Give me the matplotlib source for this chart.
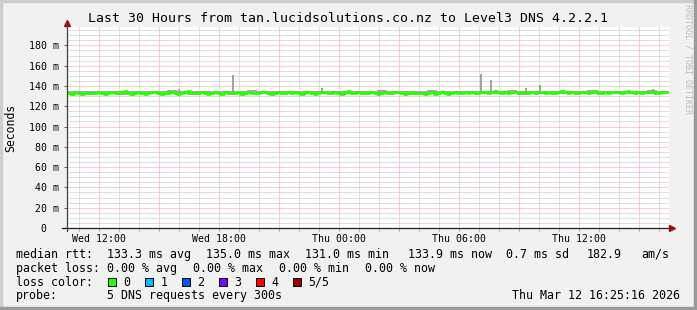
import numpy as np
import matplotlib.pyplot as plt
from matplotlib.patches import Rectangle
from matplotlib.lines import Line2D
from matplotlib.ticker import MultipleLocator, FixedLocator

W, H = 697, 310

# start of the graph: Wed 10:25 (hours since Wed 00:00), 10 minute steps
start_h = 10 + 25 / 60.0
step_h = 1 / 6.0

median_rtt = [
    133.1, 132.4, 133.8, 132.9, 132.2, 133.4, 134.2, 132.7, 133.1, 134.4, 133.3, 132.3, 133.0, 134.0, 133.2,
    132.6, 133.7, 134.6, 133.0, 132.4, 133.3, 134.1, 132.8, 132.1, 133.4, 133.9, 134.5, 133.0, 132.5, 133.6,
    132.9, 134.0, 133.2, 132.3, 133.1, 133.7, 134.7, 133.3, 132.6, 133.4, 134.2, 132.8, 132.0, 133.3, 134.0,
    133.1, 132.5, 133.8, 134.4, 133.2, 132.8, 133.6, 132.2, 133.1, 134.1, 133.4, 132.6, 133.3, 134.3, 133.6,
    132.9, 132.2, 133.4, 134.2, 133.0, 132.7, 133.9, 133.2, 134.4, 132.9, 132.3, 133.7, 134.0, 133.1, 132.5,
    133.3, 134.5, 133.6, 132.8, 133.2, 134.2, 133.0, 132.4, 133.8, 134.6, 133.3, 132.9, 134.0, 133.2, 132.6,
    133.5, 134.3, 133.0, 132.2, 133.2, 133.9, 132.8, 133.4, 134.5, 133.6, 133.0, 132.5, 133.3, 134.0, 133.1,
    132.6, 132.9, 132.1, 133.0, 133.7, 132.4, 133.2, 134.2, 132.8, 132.3, 133.4, 133.9, 133.0, 132.6, 133.6,
    133.2, 134.0, 132.9, 133.4, 134.4, 133.6, 133.0, 133.8, 134.6, 133.9, 133.1, 134.2, 133.3, 134.5, 133.7,
    133.0, 133.6, 134.3, 133.2, 134.0, 132.8, 133.8, 134.5, 133.3, 134.1, 133.5, 132.9, 134.0, 134.8, 133.6,
    133.1, 134.3, 133.5, 132.8, 133.8, 134.5, 133.3, 134.1, 134.7, 133.5, 132.9, 134.0, 133.2, 134.4, 133.7,
    134.5, 133.2, 133.9, 134.9, 134.1, 133.4, 134.3, 133.1, 133.7, 134.5, 133.9, 133.0, 133.5, 134.4, 133.8,
    133.9,
]

# smoke band, 30 minute steps
smoke_lo = [
    131.7, 132.0, 131.5, 131.9, 132.1, 131.6, 131.9, 132.2, 131.8, 131.4, 132.0, 131.9, 131.6, 132.1, 131.8,
    132.0, 131.5, 131.9, 132.1, 131.8, 131.6, 132.0, 131.9, 131.5, 131.8, 132.1, 131.9, 131.6, 132.0, 131.8,
    131.9, 132.2, 131.8, 132.0, 131.6, 131.9, 132.1, 131.8, 132.0, 131.9, 132.1, 131.8, 132.0, 132.2, 131.9,
    131.6, 132.0, 132.1, 131.8, 132.0, 131.9, 132.2, 132.0, 131.8, 132.1, 131.9, 132.0, 132.2, 131.9, 132.1,
    132.0,
]
smoke_hi = [
    134.8, 135.1, 134.9, 135.4, 134.8, 135.2, 135.0, 135.5, 134.9, 135.1, 135.7, 135.0, 135.3, 134.8, 135.1,
    135.4, 134.9, 135.2, 135.6, 135.0, 135.1, 134.8, 135.3, 135.0, 135.4, 135.1, 134.9, 135.2, 135.5, 135.0,
    135.1, 135.7, 135.3, 135.0, 135.4, 135.2, 135.6, 134.9, 135.3, 135.1, 135.5, 135.2, 135.0, 135.4, 135.7,
    135.1, 135.3, 135.0, 135.5, 135.2, 135.4, 135.1, 135.6, 135.3, 135.0, 135.5, 135.2, 135.4, 135.7, 135.3,
    135.1,
]

# single slow pings sticking out of the smoke (hour, ms)
spike_hours = [16.0, 18.72, 23.17, 31.1, 31.6, 33.35, 34.07, 39.72]
spike_tops = [137.5, 151.0, 138.5, 152.0, 146.0, 138.0, 141.0, 137.0]

tick_hours = [12, 18, 24, 30, 36]
tick_names = ["Wed 12:00", "Wed 18:00", "Thu 00:00", "Thu 06:00", "Thu 12:00"]

loss_names = ["0", "1", "2", "3", "4", "5/5"]
loss_colors = ["#26ff00", "#00b8ff", "#0059ff", "#7e00ff", "#ff0000", "#a10000"]

mono = "DejaVu Sans Mono"


def fx(x):
    return x / W


def fy(y):
    return 1 - y / H


def main():
    fig = plt.figure(figsize=(W / 100, H / 100), dpi=100)
    fig.patch.set_facecolor("#f1f1f1")

    # 3d frame
    fig.patches.append(Rectangle((0, fy(2)), 1, 2 / H, transform=fig.transFigure, color="#cdcdcd", zorder=0))
    fig.patches.append(Rectangle((0, 0), 2 / W, 1, transform=fig.transFigure, color="#cdcdcd", zorder=0))
    fig.patches.append(Rectangle((fx(694), 0), 3 / W, 1, transform=fig.transFigure, color="#9a9a9a", zorder=0))
    fig.patches.append(Rectangle((0, 0), 1, 3 / H, transform=fig.transFigure, color="#9a9a9a", zorder=0))

    left, right, top, bottom = 67, 669, 27, 228
    ax = fig.add_axes([fx(left), fy(bottom), fx(right - left), (bottom - top) / H])
    ax.set_facecolor("white")

    t_med = start_h + step_h * np.arange(len(median_rtt))
    t_smoke = start_h + 0.5 * np.arange(len(smoke_lo))

    ax.fill_between(t_smoke, smoke_lo, smoke_hi, step="post", color="#a8a8a8", lw=0, zorder=2)
    ax.vlines(spike_hours, 134, spike_tops, color="#9a9a9a", lw=1.3, zorder=2)
    ax.plot(t_med, median_rtt, drawstyle="steps-post", color="#26ff00", lw=2.0, zorder=3)

    ax.set_xlim(start_h, start_h + (right - left) / 20.0)
    ax.set_ylim(0, (bottom - top) / 1.0144)

    # grid
    ax.yaxis.set_major_locator(FixedLocator(np.arange(0, 181, 20)))
    ax.yaxis.set_minor_locator(MultipleLocator(5))
    ax.xaxis.set_major_locator(FixedLocator(np.arange(12, 41, 3)))
    ax.xaxis.set_minor_locator(MultipleLocator(1))
    dots = (0, (1, 1))
    ax.grid(which="minor", color="#c0c0c0", ls=dots, lw=0.72)
    ax.grid(which="major", color="#f0a0a0", ls=dots, lw=0.72)
    ax.set_axisbelow(True)

    ylabels = []
    for v in np.arange(0, 181, 20):
        ylabels.append("0  " if v == 0 else "%d m" % v)
    ax.set_yticklabels(ylabels, family=mono, fontsize=7.1)
    xlabels = []
    for h in np.arange(12, 41, 3):
        xlabels.append(tick_names[tick_hours.index(h)] if h in tick_hours else "")
    ax.set_xticklabels(xlabels, family=mono, fontsize=7.1)
    ax.tick_params(axis="y", which="major", length=2, width=0.7, color="#606060", pad=3.6)
    ax.tick_params(axis="y", which="minor", length=0)
    ax.tick_params(axis="x", which="major", length=2, width=0.7, color="#e08080", pad=2.0)
    ax.tick_params(axis="x", which="minor", length=2, width=0.7, color="#b0b0b0")

    for s in ax.spines.values():
        s.set_visible(False)

    # axes with arrows
    fig.lines.append(Line2D([fx(left), fx(left)], [fy(231), fy(24)], transform=fig.transFigure,
                            color="#404040", lw=0.9))
    fig.lines.append(Line2D([fx(62), fx(670)], [fy(bottom), fy(bottom)], transform=fig.transFigure,
                            color="#202020", lw=0.9))
    fig.lines.append(Line2D([fx(left)], [fy(23)], transform=fig.transFigure, marker="^",
                            ms=4.5, color="#9b1010", lw=0))
    fig.lines.append(Line2D([fx(672)], [fy(bottom)], transform=fig.transFigure, marker=">",
                            ms=4.5, color="#9b1010", lw=0))

    fig.text(fx(347.5), fy(19), "Last 30 Hours from tan.lucidsolutions.co.nz to Level3 DNS 4.2.2.1",
             family=mono, fontsize=9.5, ha="center", va="center")
    fig.text(fx(10.5), fy(127.5), "Seconds", family=mono, fontsize=8.3, rotation=90,
             ha="center", va="center")
    fig.text(fx(688), fy(59.5), "RRDTOOL / TOBI OETIKER", family=mono, fontsize=6, rotation=270,
             ha="center", va="center", color="#bdbdbd")

    fs = 8.35
    row1 = [(16, "median rtt:"), (107.3, "133.3 ms avg"), (206, "135.0 ms max"), (305, "131.0 ms min"),
            (407.7, "133.9 ms now"), (505.7, "0.7 ms sd"), (587, "182.9"), (641.7, "am/s")]
    for x, s in row1:
        fig.text(fx(x), fy(254.3), s, family=mono, fontsize=fs, va="center")
    row2 = [(16, "packet loss:"), (107.3, "0.00 % avg"), (193.3, "0.00 % max"), (279.3, "0.00 % min"),
            (365.3, "0.00 % now")]
    for x, s in row2:
        fig.text(fx(x), fy(268.3), s, family=mono, fontsize=fs, va="center")

    fig.text(fx(16), fy(282.3), "loss color:", family=mono, fontsize=fs, va="center")
    for i in range(len(loss_names)):
        bx = 108.3 + 37 * i
        fig.patches.append(Rectangle((fx(bx), fy(286)), 8 / W, 8 / H, transform=fig.transFigure,
                                     facecolor=loss_colors[i], edgecolor="black", lw=0.7))
        fig.text(fx(bx + 15), fy(282.3), loss_names[i], family=mono, fontsize=fs, va="center")

    fig.text(fx(16), fy(295.7), "probe:", family=mono, fontsize=fs, va="center")
    fig.text(fx(107.3), fy(295.7), "5 DNS requests every 300s", family=mono, fontsize=fs, va="center")
    fig.text(fx(680), fy(295.7), "Thu Mar 12 16:25:16 2026", family=mono, fontsize=fs,
             va="center", ha="right")

    fig.savefig("out.png", dpi=100)


if __name__ == '__main__':
    main()
